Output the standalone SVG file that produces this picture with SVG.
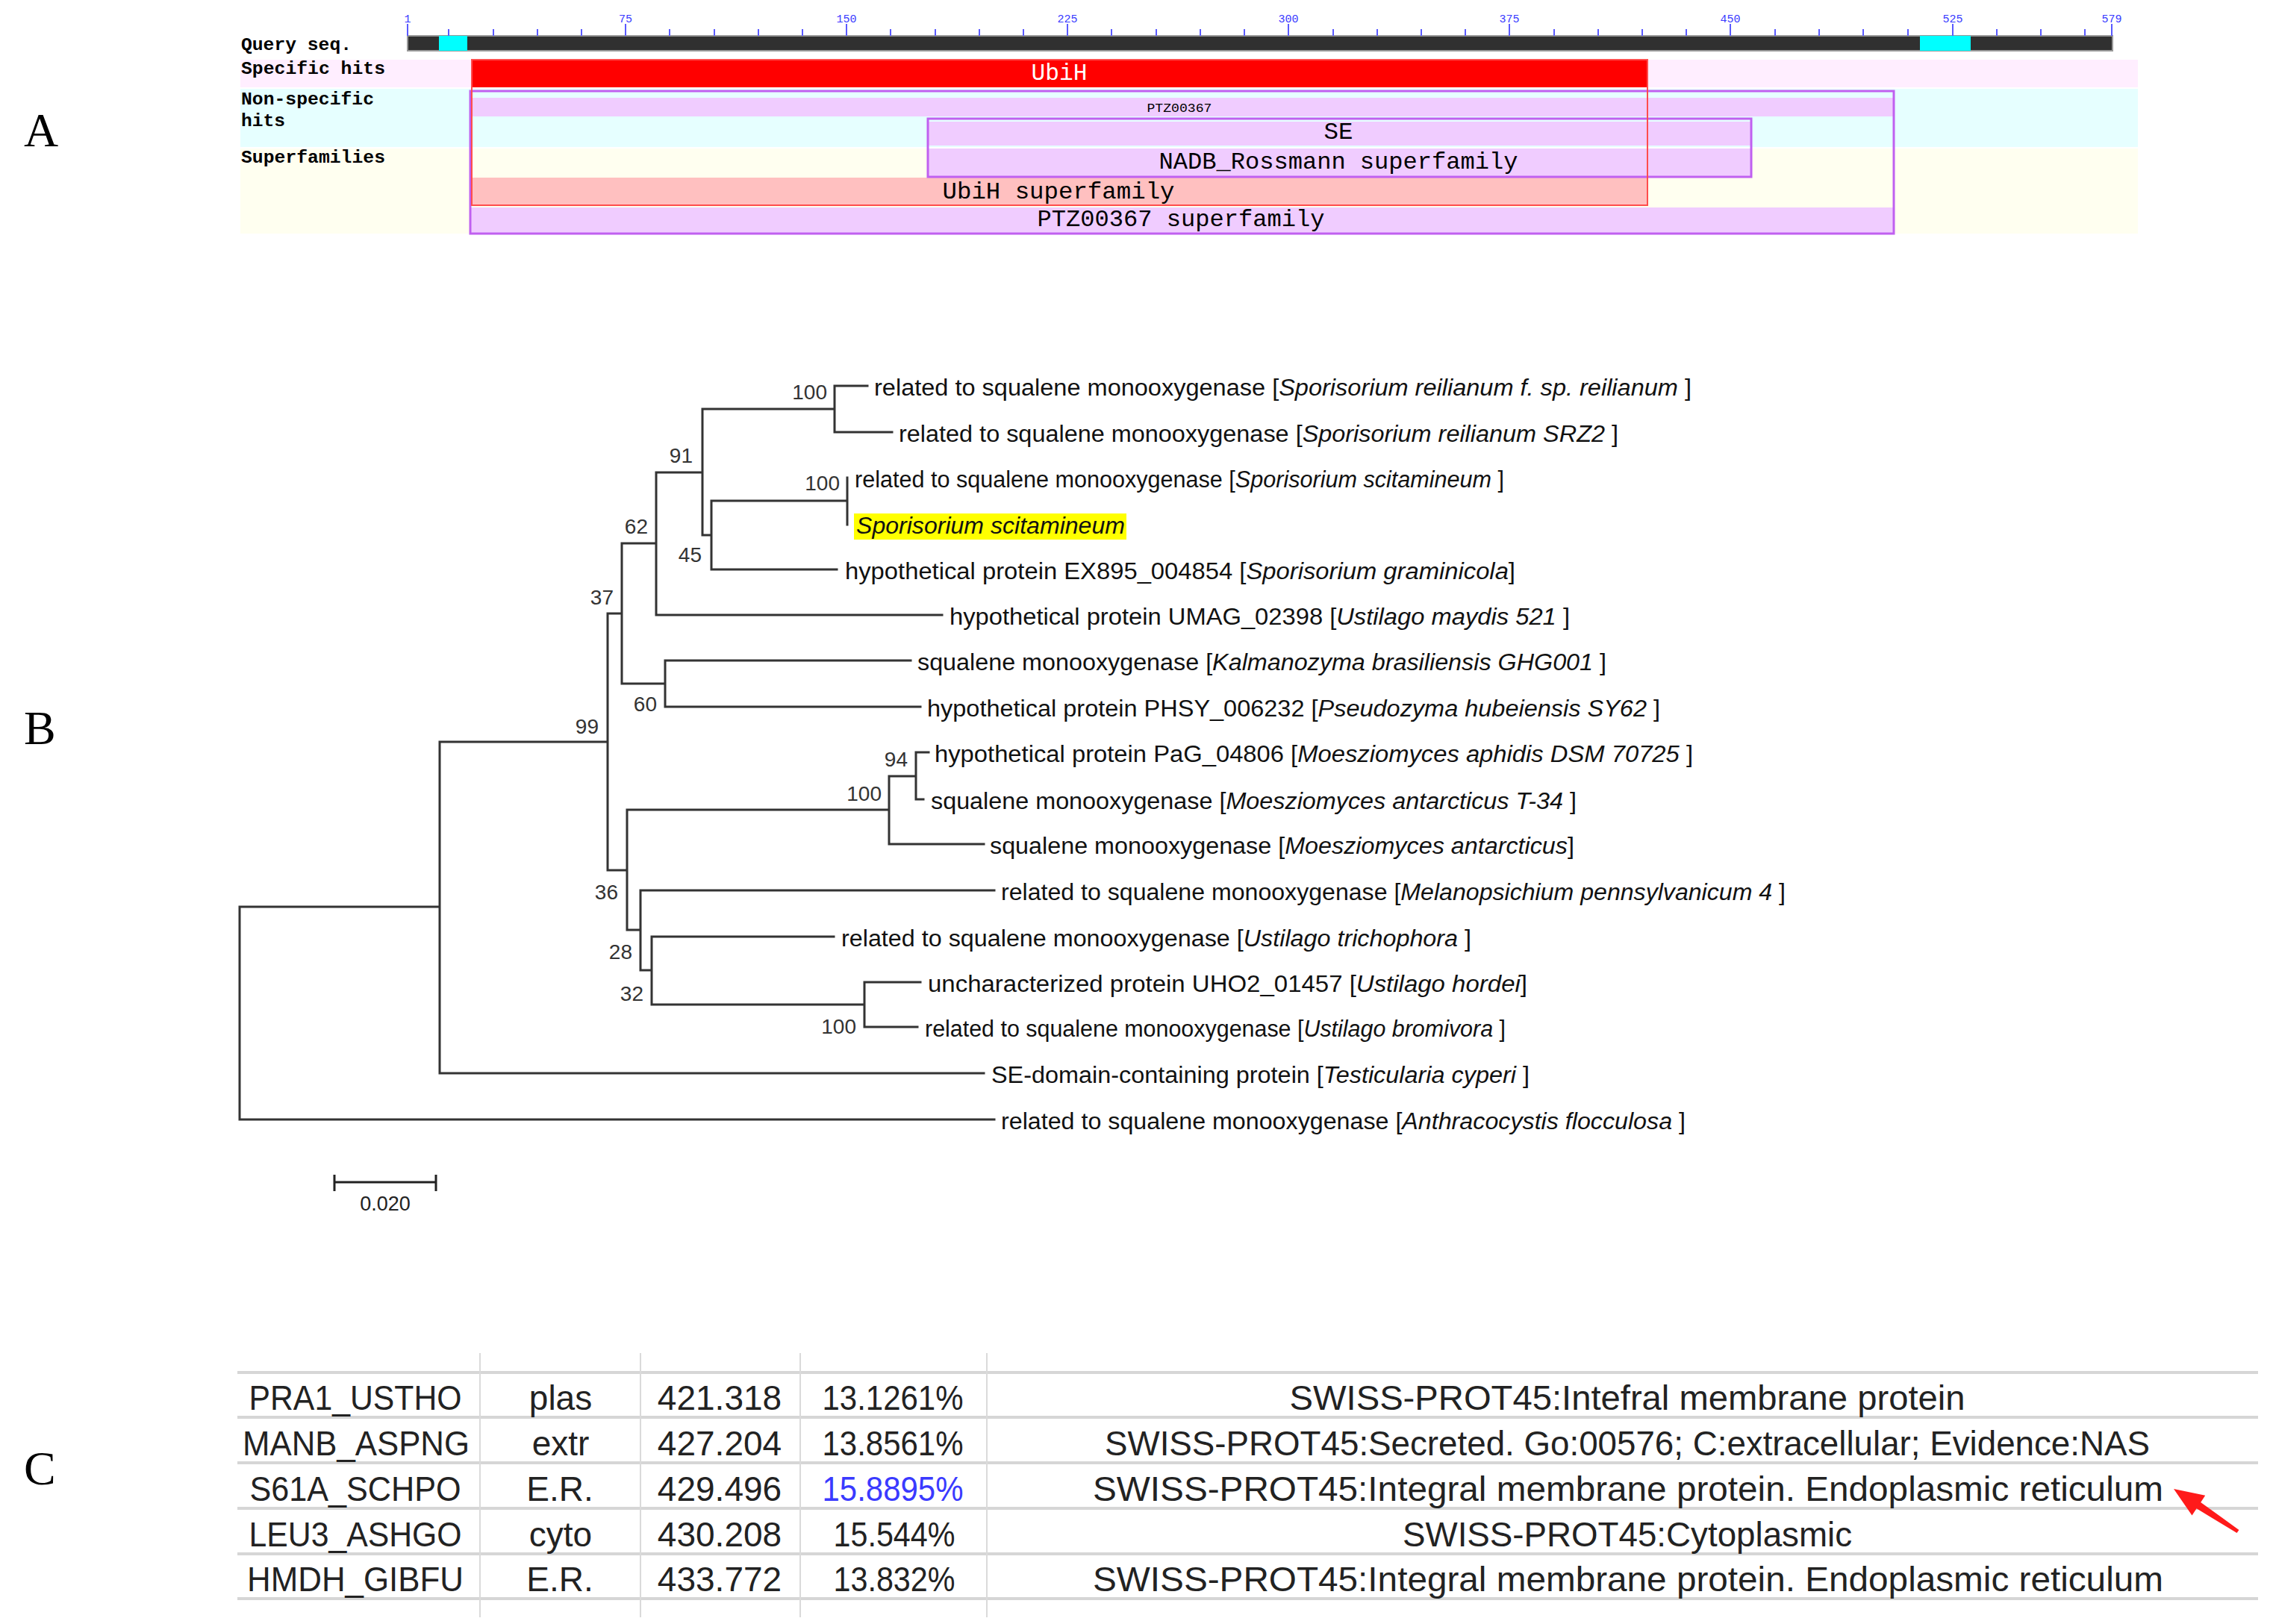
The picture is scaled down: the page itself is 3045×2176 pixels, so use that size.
<svg xmlns="http://www.w3.org/2000/svg" width="3045" height="2176" viewBox="0 0 3045 2176">
<style>
.panel{font-family:"Liberation Serif","Times New Roman",serif;font-size:64px;fill:#000}
.lbl{font-family:"Liberation Mono","DejaVu Sans Mono",monospace;font-weight:bold;font-size:23px;fill:#000}
.bar{font-family:"Liberation Mono","DejaVu Sans Mono",monospace;font-size:32px;fill:#000;text-anchor:middle}
.rul{font-family:"Liberation Mono","DejaVu Sans Mono",monospace;font-size:15px;fill:#3a3aff;text-anchor:middle}
.tk{stroke:#5a5aff;stroke-width:2}
.hitfill{fill:#f0ccff}
.grp{fill:none;stroke:#c060f0;stroke-width:3}
.br{fill:none;stroke:#333;stroke-width:3;stroke-linecap:square}
.leaf{font-family:"Liberation Sans",Arial,sans-serif;font-size:31px;fill:#111}
.bs{font-family:"Liberation Sans",Arial,sans-serif;font-size:28px;fill:#333;text-anchor:end}
.tb{font-family:"Liberation Sans",Arial,sans-serif;font-size:46px;fill:#222;text-anchor:middle}
.hl{stroke:#d6d6d6;stroke-width:4}
.vl{stroke:#dadada;stroke-width:2}
</style>

<!-- Panel labels -->
<text class="panel" x="32" y="196">A</text>
<text class="panel" x="32" y="997">B</text>
<text class="panel" x="32" y="1989">C</text>

<!-- Panel A -->
<g id="panelA">
  <rect x="322" y="80" width="2542" height="37" fill="#ffeeff"/>
  <rect x="322" y="119" width="2542" height="78" fill="#e6ffff"/>
  <rect x="322" y="199" width="2542" height="114" fill="#fffff0"/>
  <g id="trackLabels">
    <text class="lbl" x="323" y="67" textLength="148" lengthAdjust="spacingAndGlyphs">Query seq.</text>
    <text class="lbl" x="323" y="99" textLength="193" lengthAdjust="spacingAndGlyphs">Specific hits</text>
    <text class="lbl" x="323" y="140" textLength="178" lengthAdjust="spacingAndGlyphs">Non-specific</text>
    <text class="lbl" x="323" y="169" textLength="59" lengthAdjust="spacingAndGlyphs">hits</text>
    <text class="lbl" x="323" y="218" textLength="193" lengthAdjust="spacingAndGlyphs">Superfamilies</text>
  </g>
  <g id="ruler">
    <rect x="546" y="48" width="2284" height="20" fill="#303030" stroke="#999" stroke-width="2"/>
    <rect x="588" y="48" width="38" height="20" fill="#00ffff"/>
    <rect x="2572" y="48" width="68" height="20" fill="#00ffff"/>
    <path class="tk" d="M546 32V48M838 32V48M1134 32V48M1430 32V48M1726 32V48M2022 32V48M2318 32V48M2616 32V48M2829 32V48
    M601 39V48M661 39V48M720 39V48M779 39V48M897 39V48M957 39V48M1016 39V48M1075 39V48
    M1193 39V48M1253 39V48M1312 39V48M1371 39V48M1489 39V48M1549 39V48M1608 39V48M1667 39V48
    M1786 39V48M1845 39V48M1904 39V48M1963 39V48M2082 39V48M2141 39V48M2200 39V48M2259 39V48
    M2378 39V48M2437 39V48M2496 39V48M2556 39V48M2675 39V48M2734 39V48M2793 39V48"/>
    <text class="rul" x="546" y="30">1</text>
    <text class="rul" x="838" y="30">75</text>
    <text class="rul" x="1134" y="30">150</text>
    <text class="rul" x="1430" y="30">225</text>
    <text class="rul" x="1726" y="30">300</text>
    <text class="rul" x="2022" y="30">375</text>
    <text class="rul" x="2318" y="30">450</text>
    <text class="rul" x="2616" y="30">525</text>
    <text class="rul" x="2829" y="30">579</text>
  </g>
  <g id="hit-UbiH">
    <rect x="632" y="80" width="1575" height="37" fill="#ff0000"/>
    <text class="bar" x="1419" y="107" style="fill:#fff" textLength="75" lengthAdjust="spacingAndGlyphs">UbiH</text>
  </g>
  <g id="hit-PTZ00367">
    <rect class="hitfill" x="630" y="131" width="1907" height="25"/>
    <text x="1580" y="150" text-anchor="middle" font-family="Liberation Mono, monospace" font-size="17" textLength="87" lengthAdjust="spacingAndGlyphs">PTZ00367</text>
  </g>
  <g id="hit-SE">
    <rect class="hitfill" x="1243" y="163" width="1103" height="32"/>
    <text class="bar" x="1793" y="186" textLength="39" lengthAdjust="spacingAndGlyphs">SE</text>
  </g>
  <g id="sf-NADB">
    <rect class="hitfill" x="1243" y="199" width="1103" height="38"/>
    <text class="bar" x="1793" y="226" textLength="481" lengthAdjust="spacingAndGlyphs">NADB_Rossmann superfamily</text>
  </g>
  <g id="sf-UbiH">
    <rect x="632" y="238" width="1575" height="37" fill="#ffc0c0"/>
    <text class="bar" x="1418" y="266" textLength="311" lengthAdjust="spacingAndGlyphs">UbiH superfamily</text>
  </g>
  <g id="sf-PTZ00367">
    <rect class="hitfill" x="630" y="278" width="1907" height="35"/>
    <text class="bar" x="1582" y="303" textLength="385" lengthAdjust="spacingAndGlyphs">PTZ00367 superfamily</text>
  </g>
  <g id="groupOutlines">
    <rect class="grp" x="630" y="122" width="1907" height="191"/>
    <rect class="grp" x="1243" y="159" width="1103" height="78"/>
    <rect x="632" y="80" width="1575" height="195" fill="none" stroke="#ff4d4d" stroke-width="2"/>
  </g>
</g>

<!-- Panel B: tree -->
<g id="connectors">
  <path class="br" d="M1162 517H1118V579H1195M1118 548H941V717M941 633H879M941 717H953M953 671V763H1121M953 671H1135M1135 640V703
  M879 633V824H1262M879 728H833V916M833 822H814M833 916H891M891 885V947M891 885H1220M891 947H1233
  M814 822V1166M814 994H589M814 1166H840M840 1085V1246M840 1085H1191M1191 1040V1131H1318M1191 1040H1227M1227 1008V1071M1227 1008H1244M1227 1071H1237
  M840 1246H858M858 1193V1300M858 1193H1332M858 1300H873M873 1255V1346M873 1255H1117M873 1346H1158M1158 1316V1376M1158 1316H1233M1158 1376H1229
  M589 994V1438H1318M589 1215H321M321 1215V1500H1332"/>
</g>
<g id="bootstrap">
  <text class="bs" x="1108" y="535">100</text>
  <text class="bs" x="928" y="620">91</text>
  <text class="bs" x="1125" y="657">100</text>
  <text class="bs" x="868" y="715">62</text>
  <text class="bs" x="940" y="753">45</text>
  <text class="bs" x="822" y="810">37</text>
  <text class="bs" x="880" y="953">60</text>
  <text class="bs" x="802" y="983">99</text>
  <text class="bs" x="1216" y="1027">94</text>
  <text class="bs" x="1181" y="1073">100</text>
  <text class="bs" x="828" y="1205">36</text>
  <text class="bs" x="847" y="1285">28</text>
  <text class="bs" x="862" y="1341">32</text>
  <text class="bs" x="1147" y="1385">100</text>
</g>
<g id="leaf1"><text class="leaf" x="1171" y="530" textLength="1095" lengthAdjust="spacingAndGlyphs">related to squalene monooxygenase [<tspan font-style="italic">Sporisorium reilianum f. sp. reilianum</tspan> ]</text></g>
<g id="leaf2"><text class="leaf" x="1204" y="592" textLength="964" lengthAdjust="spacingAndGlyphs">related to squalene monooxygenase [<tspan font-style="italic">Sporisorium reilianum SRZ2</tspan> ]</text></g>
<g id="leaf3"><text class="leaf" x="1145" y="653" textLength="870" lengthAdjust="spacingAndGlyphs">related to squalene monooxygenase [<tspan font-style="italic">Sporisorium scitamineum</tspan> ]</text></g>
<g id="leaf4">
  <rect x="1144" y="688" width="365" height="35" fill="#ffff00"/>
  <text class="leaf" x="1147" y="715" font-style="italic" textLength="360" lengthAdjust="spacingAndGlyphs">Sporisorium scitamineum</text>
</g>
<g id="leaf5"><text class="leaf" x="1132" y="776" textLength="898" lengthAdjust="spacingAndGlyphs">hypothetical protein EX895_004854 [<tspan font-style="italic">Sporisorium graminicola</tspan>]</text></g>
<g id="leaf6"><text class="leaf" x="1272" y="837" textLength="831" lengthAdjust="spacingAndGlyphs">hypothetical protein UMAG_02398 [<tspan font-style="italic">Ustilago maydis 521</tspan> ]</text></g>
<g id="leaf7"><text class="leaf" x="1229" y="898" textLength="923" lengthAdjust="spacingAndGlyphs">squalene monooxygenase [<tspan font-style="italic">Kalmanozyma brasiliensis GHG001</tspan> ]</text></g>
<g id="leaf8"><text class="leaf" x="1242" y="960" textLength="982" lengthAdjust="spacingAndGlyphs">hypothetical protein PHSY_006232 [<tspan font-style="italic">Pseudozyma hubeiensis SY62</tspan> ]</text></g>
<g id="leaf9"><text class="leaf" x="1252" y="1021" textLength="1016" lengthAdjust="spacingAndGlyphs">hypothetical protein PaG_04806 [<tspan font-style="italic">Moesziomyces aphidis DSM 70725</tspan> ]</text></g>
<g id="leaf10"><text class="leaf" x="1247" y="1084" textLength="865" lengthAdjust="spacingAndGlyphs">squalene monooxygenase [<tspan font-style="italic">Moesziomyces antarcticus T-34</tspan> ]</text></g>
<g id="leaf11"><text class="leaf" x="1326" y="1144" textLength="783" lengthAdjust="spacingAndGlyphs">squalene monooxygenase [<tspan font-style="italic">Moesziomyces antarcticus</tspan>]</text></g>
<g id="leaf12"><text class="leaf" x="1341" y="1206" textLength="1051" lengthAdjust="spacingAndGlyphs">related to squalene monooxygenase [<tspan font-style="italic">Melanopsichium pennsylvanicum 4</tspan> ]</text></g>
<g id="leaf13"><text class="leaf" x="1127" y="1268" textLength="844" lengthAdjust="spacingAndGlyphs">related to squalene monooxygenase [<tspan font-style="italic">Ustilago trichophora</tspan> ]</text></g>
<g id="leaf14"><text class="leaf" x="1243" y="1329" textLength="803" lengthAdjust="spacingAndGlyphs">uncharacterized protein UHO2_01457 [<tspan font-style="italic">Ustilago hordei</tspan>]</text></g>
<g id="leaf15"><text class="leaf" x="1239" y="1389" textLength="778" lengthAdjust="spacingAndGlyphs">related to squalene monooxygenase [<tspan font-style="italic">Ustilago bromivora</tspan> ]</text></g>
<g id="leaf16"><text class="leaf" x="1328" y="1451" textLength="721" lengthAdjust="spacingAndGlyphs">SE-domain-containing protein [<tspan font-style="italic">Testicularia cyperi</tspan> ]</text></g>
<g id="leaf17"><text class="leaf" x="1341" y="1513" textLength="917" lengthAdjust="spacingAndGlyphs">related to squalene monooxygenase [<tspan font-style="italic">Anthracocystis flocculosa</tspan> ]</text></g>

<g id="scalebar">
  <path d="M448 1584H584M448 1574V1596M584 1574V1596" fill="none" stroke="#222" stroke-width="3"/>
  <text x="516" y="1622" text-anchor="middle" font-family="Liberation Sans, Arial, sans-serif" font-size="27" fill="#222">0.020</text>
</g>

<!-- Panel C: table -->
<g id="table">
  <g id="gridlines">
    <path class="hl" d="M318 1839H3025M318 1899H3025M318 1960H3025M318 2021H3025M318 2082H3025M318 2142H3025"/>
    <path class="vl" d="M643 1813V2167M858 1813V2167M1072 1813V2167M1322 1813V2167"/>
  </g>
  <g id="row1">
    <text class="tb" x="476" y="1889" textLength="285" lengthAdjust="spacingAndGlyphs">PRA1_USTHO</text>
    <text class="tb" x="751" y="1889">plas</text>
    <text class="tb" x="964" y="1889">421.318</text>
    <text class="tb" x="1196" y="1889" textLength="189" lengthAdjust="spacingAndGlyphs">13.1261%</text>
    <text class="tb" x="2180" y="1889" textLength="905" lengthAdjust="spacingAndGlyphs">SWISS-PROT45:Intefral membrane protein</text>
  </g>
  <g id="row2">
    <text class="tb" x="477" y="1950" textLength="304" lengthAdjust="spacingAndGlyphs">MANB_ASPNG</text>
    <text class="tb" x="751" y="1950">extr</text>
    <text class="tb" x="964" y="1950">427.204</text>
    <text class="tb" x="1196" y="1950" textLength="189" lengthAdjust="spacingAndGlyphs">13.8561%</text>
    <text class="tb" x="2180" y="1950" textLength="1400" lengthAdjust="spacingAndGlyphs">SWISS-PROT45:Secreted. Go:00576; C:extracellular; Evidence:NAS</text>
  </g>
  <g id="row3">
    <text class="tb" x="476" y="2011" textLength="283" lengthAdjust="spacingAndGlyphs">S61A_SCHPO</text>
    <text class="tb" x="750" y="2011">E.R.</text>
    <text class="tb" x="964" y="2011">429.496</text>
    <text class="tb" x="1196" y="2011" textLength="189" lengthAdjust="spacingAndGlyphs" style="fill:#3a3aff">15.8895%</text>
    <text class="tb" x="2181" y="2011" textLength="1434" lengthAdjust="spacingAndGlyphs">SWISS-PROT45:Integral membrane protein. Endoplasmic reticulum</text>
  </g>
  <g id="row4">
    <text class="tb" x="476" y="2072" textLength="285" lengthAdjust="spacingAndGlyphs">LEU3_ASHGO</text>
    <text class="tb" x="751" y="2072">cyto</text>
    <text class="tb" x="964" y="2072">430.208</text>
    <text class="tb" x="1198" y="2072" textLength="163" lengthAdjust="spacingAndGlyphs">15.544%</text>
    <text class="tb" x="2180" y="2072" textLength="602" lengthAdjust="spacingAndGlyphs">SWISS-PROT45:Cytoplasmic</text>
  </g>
  <g id="row5">
    <text class="tb" x="476" y="2132" textLength="290" lengthAdjust="spacingAndGlyphs">HMDH_GIBFU</text>
    <text class="tb" x="750" y="2132">E.R.</text>
    <text class="tb" x="964" y="2132">433.772</text>
    <text class="tb" x="1198" y="2132" textLength="163" lengthAdjust="spacingAndGlyphs">13.832%</text>
    <text class="tb" x="2181" y="2132" textLength="1434" lengthAdjust="spacingAndGlyphs">SWISS-PROT45:Integral membrane protein. Endoplasmic reticulum</text>
  </g>
  <g id="arrow">
    <polygon points="2912,1995 2954.2,2003.7 2948.2,2012.9 2999.4,2049.9 2996.6,2054.1 2942.6,2021.3 2936.5,2030.5" fill="#ff1a1a"/>
  </g>
</g>
</svg>
